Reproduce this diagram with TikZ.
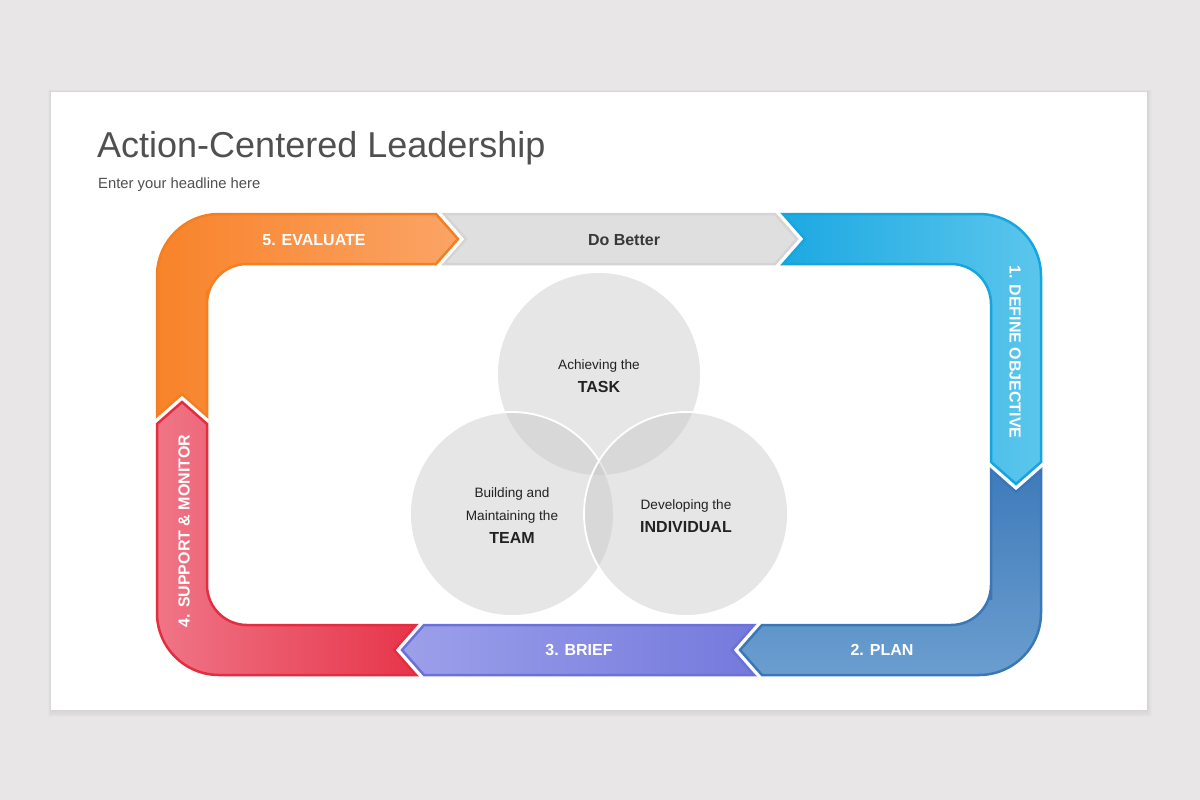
\documentclass[tikz,border=0pt]{standalone}
\usepackage{fontspec}
\setmainfont{Liberation Sans}
\usetikzlibrary{positioning}
\definecolor{bg}{HTML}{E8E6E7}
\definecolor{titlec}{HTML}{505050}
\definecolor{orB}{HTML}{F47E22}
\definecolor{orD}{HTML}{F8832A}
\definecolor{orL}{HTML}{FBA466}
\definecolor{gyB}{HTML}{D4D4D4}
\definecolor{gyF}{HTML}{DFDFDF}
\definecolor{cyB}{HTML}{16A6DF}
\definecolor{cyD}{HTML}{1DA9E2}
\definecolor{cyL}{HTML}{5BC6EC}
\definecolor{plB}{HTML}{3A77B7}
\definecolor{plD}{HTML}{3F7BBA}
\definecolor{plL}{HTML}{6B9ECF}
\definecolor{brB}{HTML}{6C71D9}
\definecolor{brL}{HTML}{9CA0EA}
\definecolor{brD}{HTML}{7579DC}
\definecolor{rdB}{HTML}{E42D40}
\definecolor{rdL}{HTML}{EF7586}
\definecolor{rdD}{HTML}{E7354A}
\definecolor{circ}{HTML}{C8C8C8}
\definecolor{txt}{HTML}{222222}
\tikzset{
  seg/.style={line width=2.5pt, line join=miter},
  lbl/.style={text=white, font=\bfseries\fontsize{16}{18}\selectfont, inner sep=0pt},
  ctext/.style={text=txt, font=\fontsize{13.6}{16}\selectfont, inner sep=0pt, align=center},
  cbold/.style={text=txt, font=\bfseries\fontsize{16}{18}\selectfont, inner sep=0pt},
  venn/.style={circle, fill=circ, fill opacity=0.45, draw=white, draw opacity=1, line width=1.8pt, minimum size=204pt, inner sep=0pt}
}
\begin{document}
\begin{tikzpicture}[x=1pt,y=1pt]
\useasboundingbox (0,0) rectangle (1200,-800);
\fill[bg] (0,0) rectangle (1200,-800);
% slide shadow
\foreach \i in {1,...,6}{
  \fill[black, opacity=0.012] (51-\i*0.5,-92+\i*0.3) rectangle (1147+\i*0.8,-710-\i*1.2);
}
\fill[white] (51,-92) rectangle (1147,-710);
% title
\node[anchor=base west, inner sep=0pt, text=titlec, font=\fontsize{36}{40}\selectfont] (title) at (97,-157) {Action-Centered Leadership};
\node[anchor=base west, inner sep=0pt, text=titlec, font=\fontsize{14.8}{17}\selectfont] (sub) at (98,-188) {Enter your headline here};

% 5. evaluate (orange)
\path[seg, draw=orB, left color=orD, right color=orL]
 (207,-416) -- (182,-394) -- (157,-416) -- (157,-320) [rounded corners=62] -- (157,-214) -- (330,-214) [sharp corners] -- (436,-214) -- (458,-239) -- (436,-264) -- (330,-264) [rounded corners=40] -- (207,-264) -- (207,-330) [sharp corners] -- cycle;
% do better (gray)
\path[seg, draw=gyB, fill=gyF]
 (444,-214) -- (775,-214) -- (797,-239) -- (775,-264) -- (444,-264) -- (466,-239) -- cycle;
% 1. define objective (cyan)
\path[seg, draw=cyB, left color=cyD, right color=cyL]
 (783,-214) -- (900,-214) [rounded corners=62] -- (1041,-214) -- (1041,-350) [sharp corners] -- (1041,-462) -- (1016,-484) -- (991,-462) -- (991,-350) [rounded corners=40] -- (991,-264) -- (900,-264) [sharp corners] -- (783,-264) -- (805,-239) -- cycle;
% 2. plan (steel blue)
\path[seg, draw=plB, top color=plD, bottom color=plL]
 (991,-470) -- (1016,-492) -- (1041,-470) -- (1041,-560) [rounded corners=62] -- (1041,-675) -- (900,-675) [sharp corners] -- (762,-675) -- (740,-650) -- (762,-625) -- (900,-625) [rounded corners=40] -- (991,-625) -- (991,-560) [sharp corners] -- cycle;
% 3. brief (purple)
\path[seg, draw=brB, left color=brL, right color=brD]
 (754,-625) -- (732,-650) -- (754,-675) -- (424,-675) -- (402,-650) -- (424,-625) -- cycle;
% 4. support & monitor (red)
\path[seg, draw=rdB, left color=rdL, right color=rdD]
 (416,-625) -- (394,-650) -- (416,-675) -- (300,-675) [rounded corners=62] -- (157,-675) -- (157,-550) [sharp corners] -- (157,-424) -- (182,-402) -- (207,-424) -- (207,-550) [rounded corners=40] -- (207,-625) -- (300,-625) [sharp corners] -- cycle;

% labels
\node[lbl] (l5) at (314,-240) {5. EVALUATE};
\node[lbl, text=txt!90] (ldb) at (624,-240) {Do Better};
\node[lbl, rotate=-90] (l1) at (1015,-352) {1. DEFINE OBJECTIVE};
\node[lbl] (l2) at (882,-650) {2. PLAN};
\node[lbl] (l3) at (579,-650) {3. BRIEF};
\node[lbl, rotate=90] (l4) at (184,-531) {4. SUPPORT \& MONITOR};

% venn circles
\node[venn] (task) at (599,-374) {};
\node[venn] (team) at (512,-514) {};
\node[venn] (indiv) at (686,-514) {};

\node[ctext] (t1) at (599,-366) {Achieving the};
\node[cbold] (t2) at (599,-387) {TASK};
\node[ctext] (m1) at (512,-494) {Building and};
\node[ctext] (m2) at (512,-517) {Maintaining the};
\node[cbold] (m3) at (512,-538) {TEAM};
\node[ctext] (i1) at (686,-506) {Developing the};
\node[cbold] (i2) at (686,-527) {INDIVIDUAL};
\end{tikzpicture}
\end{document}
